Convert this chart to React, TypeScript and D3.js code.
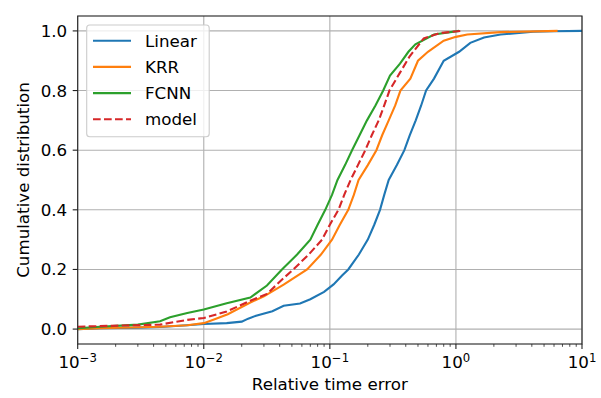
import React, { useEffect, useRef } from "react";
import * as d3 from "d3";

// relative time error (x) vs cumulative fraction (y)
const seriesNames = ["Linear", "KRR", "FCNN", "model"];
const seriesColors = ["#1f77b4", "#ff7f0e", "#2ca02c", "#d62728"];

const linearPts: [number, number][] = [
  [0.001, 0.0], [0.0015, 0.003], [0.003, 0.005], [0.0045, 0.007], [0.0074, 0.013],
  [0.01, 0.017], [0.0152, 0.02], [0.02, 0.025], [0.0225, 0.035], [0.026, 0.045],
  [0.035, 0.06], [0.043, 0.078], [0.058, 0.086], [0.07, 0.1], [0.09, 0.125],
  [0.107, 0.15], [0.125, 0.18], [0.14, 0.2], [0.17, 0.25], [0.2, 0.3],
  [0.225, 0.35], [0.25, 0.4], [0.27, 0.45], [0.293, 0.5], [0.34, 0.55],
  [0.39, 0.6], [0.43, 0.65], [0.48, 0.7], [0.53, 0.75], [0.58, 0.8],
  [0.67, 0.84], [0.8, 0.9], [1.06, 0.93], [1.3, 0.96], [1.67, 0.978],
  [2.26, 0.988], [4.1, 0.997], [6, 0.999], [10, 1.0],
];
const krrPts: [number, number][] = [
  [0.001, 0.0], [0.0015, 0.003], [0.0045, 0.008], [0.0074, 0.013], [0.01, 0.02],
  [0.0125, 0.035], [0.0155, 0.05], [0.0234, 0.089], [0.03, 0.11], [0.043, 0.149],
  [0.066, 0.2], [0.085, 0.25], [0.104, 0.3], [0.12, 0.35], [0.14, 0.4],
  [0.155, 0.45], [0.169, 0.5], [0.2, 0.55], [0.234, 0.6], [0.26, 0.65],
  [0.293, 0.7], [0.33, 0.75], [0.363, 0.8], [0.435, 0.84], [0.5, 0.9],
  [0.6, 0.93], [0.8, 0.967], [1.0, 0.98], [1.23, 0.988], [2.26, 0.996], [6.4, 1.0],
];
const fcnnPts: [number, number][] = [
  [0.001, 0.003], [0.0015, 0.008], [0.003, 0.015], [0.0045, 0.026], [0.0054, 0.04],
  [0.0074, 0.054], [0.01, 0.066], [0.0152, 0.087], [0.0234, 0.106], [0.0317, 0.146],
  [0.0417, 0.2], [0.055, 0.25], [0.07, 0.3], [0.08, 0.35], [0.092, 0.4],
  [0.104, 0.45], [0.115, 0.5], [0.132, 0.55], [0.15, 0.6], [0.172, 0.65],
  [0.197, 0.7], [0.23, 0.75], [0.265, 0.8], [0.3, 0.85], [0.36, 0.89],
  [0.42, 0.93], [0.477, 0.955], [0.67, 0.988], [1.06, 1.0],
];
const modelPts: [number, number][] = [
  [0.001, 0.008], [0.0015, 0.01], [0.0045, 0.015], [0.0074, 0.031], [0.01, 0.037],
  [0.0152, 0.059], [0.0234, 0.095], [0.0317, 0.118], [0.043, 0.171], [0.0513, 0.2],
  [0.068, 0.25], [0.0867, 0.3], [0.1, 0.35], [0.117, 0.4], [0.13, 0.45],
  [0.146, 0.5], [0.167, 0.55], [0.191, 0.6], [0.215, 0.65], [0.244, 0.7],
  [0.27, 0.75], [0.297, 0.8], [0.36, 0.86], [0.43, 0.915], [0.556, 0.975],
  [0.75, 0.993], [1.1, 1.0],
];

const yTicks = [0, 0.2, 0.4, 0.6, 0.8, 1.0];
const xTicks = [1e-3, 1e-2, 1e-1, 1e0, 1e1];
const xTickExps = ["\u22123", "\u22122", "\u22121", "0", "1"];

const App = () => {
  const ref = useRef<SVGSVGElement>(null);

  useEffect(() => {
    const width = 601, height = 398;
    const left = 77.7, right = 582, top = 16, bottom = 344;
    const font = "'DejaVu Sans', sans-serif";
    const fs = 16.7;

    const svg = d3.select(ref.current);
    svg.selectAll("*").remove();
    svg.attr("width", width).attr("height", height);

    const x = d3.scaleLog().domain([1e-3, 1e1]).range([left, right]);
    const y = d3.scaleLinear().domain([-0.05, 1.05]).range([bottom, top]);

    svg.append("rect").attr("width", width).attr("height", height).attr("fill", "#fff");

    // grid
    const grid = svg.append("g").attr("stroke", "#b0b0b0").attr("stroke-width", 1.1);
    xTicks.forEach(t => {
      grid.append("line").attr("x1", x(t)).attr("x2", x(t)).attr("y1", top).attr("y2", bottom);
    });
    yTicks.forEach(t => {
      grid.append("line").attr("x1", left).attr("x2", right).attr("y1", y(t)).attr("y2", y(t));
    });

    svg.append("clipPath").attr("id", "plotclip")
      .append("rect").attr("x", left).attr("y", top).attr("width", right - left).attr("height", bottom - top);

    const line = d3.line<[number, number]>().x(d => x(d[0])).y(d => y(d[1]));
    const allPts = [linearPts, krrPts, fcnnPts, modelPts];
    const curves = svg.append("g").attr("clip-path", "url(#plotclip)");
    allPts.forEach((pts, i) => {
      curves.append("path")
        .attr("d", line(pts))
        .attr("fill", "none")
        .attr("stroke", seriesColors[i])
        .attr("stroke-width", 2.1)
        .attr("stroke-dasharray", i === 3 ? "7.7,3.3" : null);
    });

    // spines
    svg.append("rect")
      .attr("x", left).attr("y", top).attr("width", right - left).attr("height", bottom - top)
      .attr("fill", "none").attr("stroke", "#222").attr("stroke-width", 1.1);

    // y ticks
    const yg = svg.append("g");
    yTicks.forEach(t => {
      yg.append("line").attr("x1", left - 5).attr("x2", left).attr("y1", y(t)).attr("y2", y(t))
        .attr("stroke", "#222").attr("stroke-width", 1.1);
      yg.append("text").attr("x", left - 10.5).attr("y", y(t)).attr("dy", "0.36em")
        .attr("text-anchor", "end").attr("font-family", font).attr("font-size", fs)
        .attr("fill", "#000").text(t.toFixed(1));
    });

    // x ticks (major + minor)
    const xg = svg.append("g");
    for (let e = -3; e < 1; e++) {
      for (let m = 2; m <= 9; m++) {
        const v = m * Math.pow(10, e);
        xg.append("line").attr("x1", x(v)).attr("x2", x(v)).attr("y1", bottom).attr("y2", bottom + 2.8)
          .attr("stroke", "#222").attr("stroke-width", 0.8);
      }
    }
    xTicks.forEach((t, i) => {
      xg.append("line").attr("x1", x(t)).attr("x2", x(t)).attr("y1", bottom).attr("y2", bottom + 5)
        .attr("stroke", "#222").attr("stroke-width", 1.1);
      const txt = xg.append("text").attr("x", x(t)).attr("y", 368.3)
        .attr("text-anchor", "middle").attr("font-family", font).attr("font-size", fs).attr("fill", "#000");
      txt.append("tspan").text("10");
      txt.append("tspan").attr("dy", -6.5).attr("font-size", 11.7).text(xTickExps[i]);
    });

    svg.append("text").attr("x", (left + right) / 2).attr("y", 390)
      .attr("text-anchor", "middle").attr("font-family", font).attr("font-size", fs)
      .text("Relative time error");
    svg.append("text")
      .attr("transform", `translate(28.5, ${(top + bottom) / 2}) rotate(-90)`)
      .attr("text-anchor", "middle").attr("font-family", font).attr("font-size", fs)
      .text("Cumulative distribution");

    // legend
    const lg = svg.append("g");
    lg.append("rect").attr("x", 86.7).attr("y", 25).attr("width", 122.5).attr("height", 111.7)
      .attr("rx", 3).attr("fill", "#fff").attr("fill-opacity", 0.8)
      .attr("stroke", "#cccccc").attr("stroke-width", 1.1);
    seriesNames.forEach((name, i) => {
      const ly = 40.7 + i * 26.2;
      lg.append("line").attr("x1", 93).attr("x2", 131).attr("y1", ly).attr("y2", ly)
        .attr("stroke", seriesColors[i]).attr("stroke-width", 2.1)
        .attr("stroke-dasharray", i === 3 ? "7.7,3.3" : null);
      lg.append("text").attr("x", 145).attr("y", ly).attr("dy", "0.36em")
        .attr("font-family", font).attr("font-size", fs).attr("fill", "#000").text(name);
    });
  }, []);

  return (
    <svg ref={ref} style={{ position: "absolute", left: 0, top: 0 }}></svg>
  );
};

export default App;
